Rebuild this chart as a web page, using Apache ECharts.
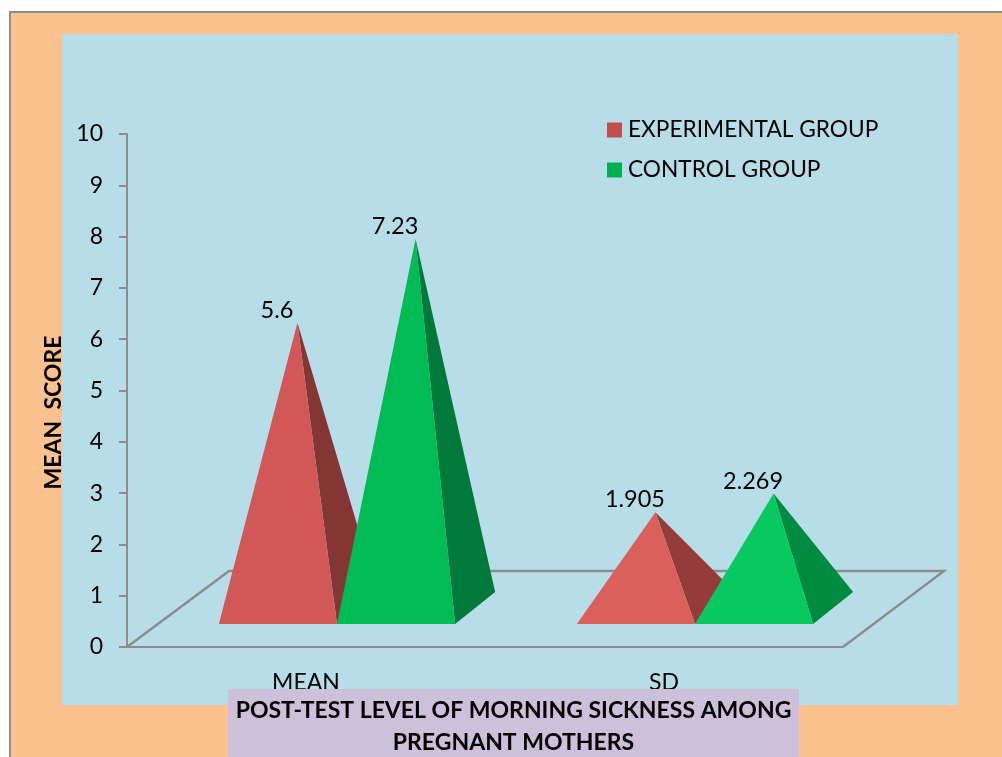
<!DOCTYPE html>
<html>
<head>
<meta charset="utf-8">
<style>
  html, body { margin: 0; padding: 0; background: #fff; }
  #chart { width: 1002px; height: 757px; }
</style>
<script src="https://cdn.jsdelivr.net/npm/echarts@6/dist/echarts.min.js"></script>
</head>
<body>
<div id="chart"></div>
<script>
// Post-test morning sickness scores
const categories = ['MEAN', 'SD'];
const experimentalGroup = [5.6, 1.905];
const controlGroup = [7.23, 2.269];
const experimentalLabels = ['5.6', '1.905'];
const controlLabels = ['7.23', '2.269'];

const FONT = 'Lato, Carlito, Calibri, sans-serif';
const GREY = '#8C8C8C';

// Oblique projection of the chart's floor and of each pyramid's base
const FLOOR_DX = 102, FLOOR_DY = 76;
const FRONT_DX = 31, FRONT_DY = 23;
const DEPTH_DX = 40, DEPTH_DY = 32;
const APEX_DX = 19.5, APEX_DY = 37 - FRONT_DY;
const PYRAMID_SHARE = 0.33;

function floorItem(params) {
  const r = params.coordSys;
  const x0 = r.x, x1 = r.x + r.width, y = r.y + r.height;
  return {
    type: 'polyline',
    silent: true,
    shape: { points: [[x0, y], [x0 + FLOOR_DX, y - FLOOR_DY], [x1 + FLOOR_DX - 1, y - FLOOR_DY], [x1, y]] },
    style: { stroke: GREY, lineWidth: 2.4, fill: null }
  };
}

// Draws one pyramid: a lit front face, a shaded side face and the value label
function pyramidRenderer(side, faces, shades, labels) {
  return function (params, api) {
    const i = api.value(0);
    const top = api.coord([i, api.value(1)]);
    const bottom = api.coord([i, 0]);
    const band = api.size([1, 0])[0];
    const w = band * PYRAMID_SHARE;
    const left = bottom[0] + FRONT_DX + (side < 0 ? -w : 0);
    const right = left + w;
    const baseY = bottom[1] - FRONT_DY;
    const apexX = (left + right) / 2 + APEX_DX;
    const apexY = top[1] - FRONT_DY - APEX_DY;
    return {
      type: 'group',
      children: [
        {
          type: 'polygon',
          shape: { points: [[apexX, apexY], [right, baseY], [right + DEPTH_DX, baseY - DEPTH_DY]] },
          style: { fill: shades[i] }
        },
        {
          type: 'polygon',
          shape: { points: [[apexX, apexY], [left, baseY], [right, baseY]] },
          style: { fill: faces[i] }
        },
        {
          type: 'text',
          style: {
            text: labels[i],
            x: apexX - 20.5,
            y: apexY - 12.5,
            align: 'center',
            verticalAlign: 'middle',
            fontFamily: FONT,
            fontSize: 23.5,
            fill: '#000'
          }
        }
      ]
    };
  };
}

const chart = echarts.init(document.getElementById('chart'), null, { renderer: 'canvas' });
chart.setOption({
  animation: false,
  backgroundColor: '#fff',
  grid: { left: 127, right: 159, top: 134, bottom: 110 },
  legend: {
    data: ['EXPERIMENTAL GROUP', 'CONTROL GROUP'],
    orient: 'vertical',
    left: 602,
    top: 112,
    itemWidth: 15,
    itemHeight: 15,
    itemGap: 14,
    icon: 'rect',
    selectedMode: false,
    textStyle: { fontFamily: FONT, fontSize: 22.7, color: '#000', padding: [0, 0, 0, 1], lineHeight: 26 }
  },
  xAxis: {
    type: 'category',
    data: categories,
    axisLine: { lineStyle: { color: GREY, width: 2 } },
    axisTick: { show: false },
    axisLabel: { fontFamily: FONT, fontSize: 23, color: '#000', margin: 24 }
  },
  yAxis: {
    type: 'value',
    min: 0,
    max: 10,
    interval: 1,
    name: 'MEAN  SCORE',
    nameLocation: 'middle',
    nameRotate: 90,
    nameGap: 57,
    nameTextStyle: { fontFamily: FONT, fontSize: 23, fontWeight: 'bold', color: '#000', padding: [0, 44, 0, 0] },
    axisLine: { show: true, lineStyle: { color: GREY, width: 2 } },
    axisTick: { show: true, length: 8, lineStyle: { color: GREY, width: 2 } },
    axisLabel: { fontFamily: FONT, fontSize: 23, color: '#000', margin: 24 },
    splitLine: { show: false }
  },
  series: [
    {
      type: 'custom',
      coordinateSystem: 'cartesian2d',
      data: [[0, 0]],
      silent: true,
      z: 1,
      renderItem: floorItem
    },
    {
      name: 'EXPERIMENTAL GROUP',
      type: 'custom',
      coordinateSystem: 'cartesian2d',
      encode: { x: 0, y: 1 },
      data: experimentalGroup.map((v, i) => [i, v]),
      itemStyle: { color: '#C0504D' },
      z: 2,
      renderItem: pyramidRenderer(-1, ['#D15856', '#DA605C'], ['#843635', '#953C3A'], experimentalLabels)
    },
    {
      name: 'CONTROL GROUP',
      type: 'custom',
      coordinateSystem: 'cartesian2d',
      encode: { x: 0, y: 1 },
      data: controlGroup.map((v, i) => [i, v]),
      itemStyle: { color: '#00B050' },
      z: 3,
      renderItem: pyramidRenderer(1, ['#01BB54', '#08C95F'], ['#01793A', '#008B40'], controlLabels)
    }
  ],
  graphic: [
    { type: 'rect', z: -20, silent: true, shape: { x: 10, y: 12, width: 1010, height: 770 },
      style: { fill: '#FBC18F', stroke: GREY, lineWidth: 2 } },
    { type: 'rect', z: -10, silent: true, shape: { x: 62, y: 34, width: 896, height: 671 },
      style: { fill: '#B7DDE8' } },
    { type: 'rect', z: 50, silent: true, shape: { x: 228, y: 689, width: 571, height: 68 },
      style: { fill: '#CCC0DA' } },
    { type: 'text', z: 51, silent: true, x: 513.5, y: 711,
      style: { text: 'POST-TEST LEVEL OF MORNING SICKNESS AMONG', align: 'center', verticalAlign: 'middle',
        fontFamily: FONT, fontSize: 23, fontWeight: 'bold', fill: '#000' } },
    { type: 'text', z: 51, silent: true, x: 513.5, y: 743,
      style: { text: 'PREGNANT MOTHERS', align: 'center', verticalAlign: 'middle',
        fontFamily: FONT, fontSize: 23, fontWeight: 'bold', fill: '#000' } }
  ]
});
</script>
</body>
</html>
